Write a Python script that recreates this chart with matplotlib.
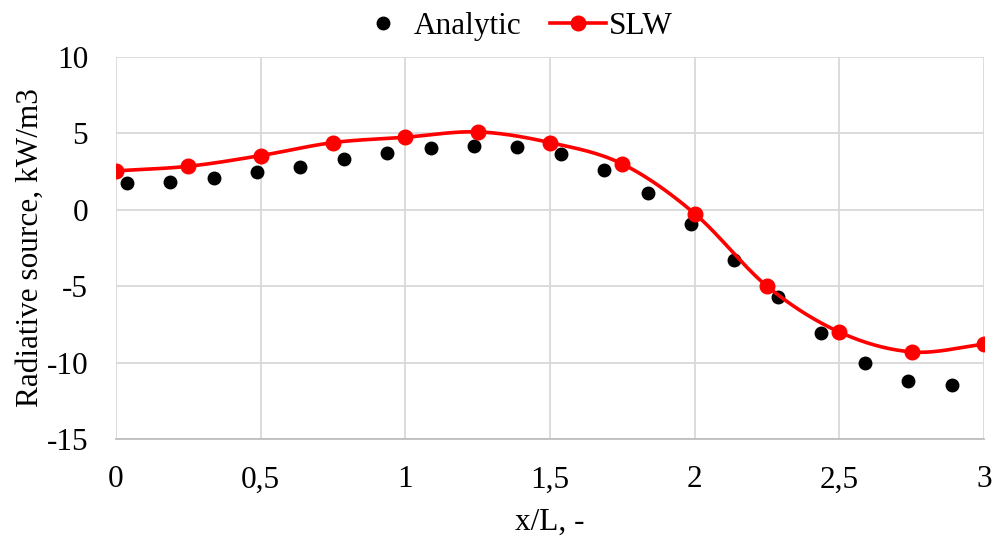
import numpy as np
import matplotlib.pyplot as plt

# values
analytic_x = [0.0375, 0.1875, 0.3375, 0.4875, 0.6375, 0.7875, 0.9375, 1.0875, 1.2375, 1.3875,
              1.5375, 1.6875, 1.8375, 1.9875, 2.1375, 2.2875, 2.4375, 2.5875, 2.7375, 2.8875]
analytic_y = [1.75, 1.85, 2.1, 2.45, 2.8, 3.3, 3.7, 4.05, 4.2, 4.1,
              3.65, 2.6, 1.1, -0.9, -3.3, -5.7, -8.05, -10.0, -11.2, -11.45]

slw_x = [0, 0.25, 0.5, 0.75, 1.0, 1.25, 1.5, 1.75, 2.0, 2.25, 2.5, 2.75, 3.0]
slw_y = [2.55, 2.85, 3.55, 4.4, 4.75, 5.1, 4.4, 3.0, -0.25, -5.0, -8.0, -9.3, -8.8]

xticks = [0, 0.5, 1, 1.5, 2, 2.5, 3]
xtick_labels = ['0', '0,5', '1', '1,5', '2', '2,5', '3']
yticks = [-15, -10, -5, 0, 5, 10]


def smooth(x, y, n=30):
    # Catmull-Rom spline through the points, like Excel's smoothed line
    x = np.asarray(x, float)
    y = np.asarray(y, float)
    px = np.concatenate([[2 * x[0] - x[1]], x, [2 * x[-1] - x[-2]]])
    py = np.concatenate([[2 * y[0] - y[1]], y, [2 * y[-1] - y[-2]]])
    xs, ys = [], []
    t = np.linspace(0, 1, n)
    for i in range(1, len(px) - 2):
        for p, out in ((px, xs), (py, ys)):
            p0, p1, p2, p3 = p[i - 1], p[i], p[i + 1], p[i + 2]
            out.extend(0.5 * ((2 * p1) + (-p0 + p2) * t
                              + (2 * p0 - 5 * p1 + 4 * p2 - p3) * t ** 2
                              + (-p0 + 3 * p1 - 3 * p2 + p3) * t ** 3))
    return xs, ys


plt.rcParams['font.family'] = ['Liberation Serif', 'DejaVu Serif']
plt.rcParams['axes.unicode_minus'] = False
fs = 22.5

fig = plt.figure(figsize=(9.94, 5.38), dpi=100)
ax = fig.add_axes([0.1167, 0.184, 0.8733, 0.71])

ax.plot(analytic_x, analytic_y, 'o', color='black', markersize=9, label='Analytic', zorder=3)
sx, sy = smooth(slw_x, slw_y)
ax.plot(sx, sy, '-', color='#ff0000', linewidth=2.6, zorder=4)
ax.plot(slw_x, slw_y, 'o', color='#ff0000', markersize=10.5, zorder=5)
ax.plot([], [], '-o', color='#ff0000', linewidth=2.6, markersize=10.5, label='SLW')

ax.set_xlim(0, 3)
ax.set_ylim(-15, 10)
ax.set_xticks(xticks)
ax.set_xticklabels(xtick_labels)
ax.set_yticks(yticks)
ax.tick_params(axis='both', length=0, labelsize=fs, colors='black')
ax.tick_params(axis='x', pad=19)
ax.tick_params(axis='y', pad=20)
ax.grid(True, color='#d9d9d9', linewidth=1.3)
ax.set_axisbelow(True)
for side in ['top', 'right', 'left']:
    ax.spines[side].set_visible(False)
ax.spines['bottom'].set_color('#bfbfbf')
ax.spines['bottom'].set_linewidth(1.3)

ax.set_xlabel('x/L, -', fontsize=fs, labelpad=10)
ax.set_ylabel('Radiative source, kW/m3', fontsize=fs, labelpad=1)

fig.legend(loc='upper center', bbox_to_anchor=(0.517, 1.03), ncol=2, frameon=False,
           fontsize=fs, handlelength=1.8, columnspacing=0.9, handletextpad=0.1)

fig.savefig('out.png', dpi=100)
